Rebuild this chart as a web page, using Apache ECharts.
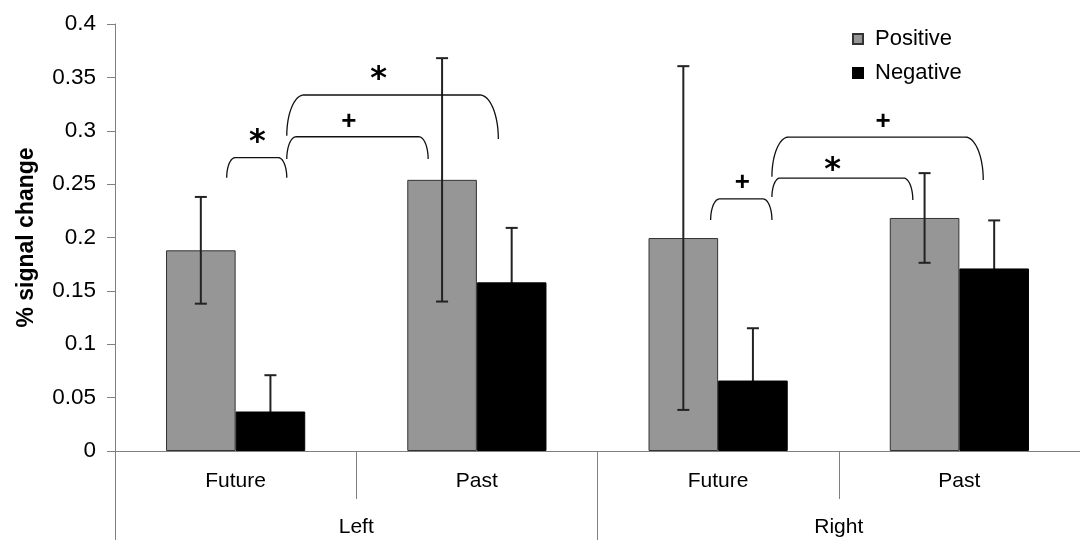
<!DOCTYPE html>
<html>
<head>
<meta charset="utf-8">
<script src="https://cdn.jsdelivr.net/npm/echarts@6/dist/echarts.min.js"></script>
<style>html,body{margin:0;padding:0;background:#fff}#c{width:1080px;height:540px}</style>
</head>
<body>
<div id="c"></div>
<script>
// ---- data ----
const subLabels = ['Future', 'Past', 'Future', 'Past'];
const groupLabels = ['Left', 'Right'];
const seriesNames = ['Positive', 'Negative'];
const positiveValues = [0.188, 0.254, 0.1995, 0.2183];
const positiveErrors = [0.050, 0.114, 0.161, 0.042];
const negativeValues = [0.037, 0.158, 0.066, 0.171];
const negativeErrors = [0.034, 0.051, 0.049, 0.045];
const yTicks = { min: 0, max: 0.4, interval: 0.05 };
// significance brackets: [x1, x2, yTop, yLeftEnd, yRightEnd, labelX, labelY] (x in category units)
const brackets = [
  [0.463, 0.712, 0.2748, 0.256, 0.256, 0.590, 0.296],
  [0.712, 1.298, 0.2944, 0.2735, 0.2735, 0.969, 0.308],
  [0.712, 1.589, 0.3335, 0.2954, 0.2923, 1.093, 0.3553],
  [2.469, 2.723, 0.2361, 0.2164, 0.2164, 2.600, 0.251],
  [2.723, 3.307, 0.2557, 0.2379, 0.2351, 2.975, 0.2698],
  [2.723, 3.599, 0.2941, 0.2570, 0.2539, 3.184, 0.3082]
];
const bracketMarks = ['*', '+', '*', '+', '*', '+'];

const FONT = "'Liberation Sans', Arial, sans-serif";
const GAP = 0.423;

const chart = echarts.init(document.getElementById('c'), null, { renderer: 'canvas' });

function errData(vals, errs) {
  return vals.map((v, i) => [i, v, errs[i]]);
}
function errRender(side) {
  return function (params, api) {
    const cat = api.value(0), v = api.value(1), e = api.value(2);
    const cw = api.size([1, 0])[0];
    const bw = cw * (1 - GAP) / 2;
    const top = api.coord([cat, v + e]);
    const bot = api.coord([cat, v - e]);
    const x = top[0] + side * bw / 2;
    const cap = 6;
    const st = { stroke: '#222', lineWidth: 2 };
    return {
      type: 'group',
      children: [
        { type: 'line', shape: { x1: x, y1: top[1], x2: x, y2: bot[1] }, style: st },
        { type: 'line', shape: { x1: x - cap, y1: top[1], x2: x + cap, y2: top[1] }, style: st },
        { type: 'line', shape: { x1: x - cap, y1: bot[1], x2: x + cap, y2: bot[1] }, style: st }
      ]
    };
  };
}
function bracketRender(params, api) {
  const b = brackets[params.dataIndex];
  const pL = api.coord([b[0], b[3]]);
  const pR = api.coord([b[1], b[4]]);
  const yT = api.coord([b[0], b[2]])[1];
  const pts = [];
  const N = 16;
  const dyL = pL[1] - yT, rxL = 0.42 * dyL;
  for (let k = 0; k <= N; k++) {
    const t = (Math.PI / 2) * k / N;
    pts.push([pL[0] + rxL - rxL * Math.cos(t), yT + dyL - dyL * Math.sin(t)]);
  }
  const dyR = pR[1] - yT, rxR = 0.42 * dyR;
  for (let k = N; k >= 0; k--) {
    const t = (Math.PI / 2) * k / N;
    pts.push([pR[0] - rxR + rxR * Math.cos(t), yT + dyR - dyR * Math.sin(t)]);
  }
  const lp = api.coord([b[5], b[6]]);
  const mark = bracketMarks[params.dataIndex];
  const isStar = mark === '*';
  return {
    type: 'group',
    children: [
      { type: 'polyline', shape: { points: pts }, style: { stroke: '#111', lineWidth: 1.3, fill: null } },
      {
        type: 'text', x: lp[0], y: lp[1] + (isStar ? 8 : 0),
        style: {
          text: mark, x: 0, y: 0, align: 'center', verticalAlign: 'middle',
          font: isStar ? "bold 32px 'DejaVu Sans', sans-serif" : 'bold 26px ' + FONT, fill: '#000'
        }
      }
    ]
  };
}

const option = {
  animation: false,
  textStyle: { fontFamily: FONT },
  grid: { left: 115, right: -12, top: 24, bottom: 89, containLabel: false },
  legend: {
    data: seriesNames,
    orient: 'vertical',
    left: 847, top: 23,
    itemWidth: 10, itemHeight: 10, itemGap: 12,
    icon: 'rect',
    textStyle: { fontSize: 22, color: '#000', fontFamily: FONT, padding: [0, 0, 0, 7] }
  },
  xAxis: [
    {
      type: 'category', data: subLabels, position: 'bottom',
      axisLine: { show: true, lineStyle: { color: '#808080', width: 1 } },
      axisTick: { show: true, length: 48, lineStyle: { color: '#808080', width: 1 } },
      axisLabel: { fontSize: 21, color: '#000', margin: 20, fontFamily: FONT },
      splitLine: { show: false }
    },
    {
      type: 'category', data: groupLabels, position: 'bottom',
      axisLine: { show: false },
      axisTick: { show: true, length: 95, lineStyle: { color: '#808080', width: 1 } },
      axisLabel: { fontSize: 21, color: '#000', margin: 66, fontFamily: FONT },
      splitLine: { show: false }
    },
    { type: 'value', min: 0, max: 4, show: false }
  ],
  yAxis: {
    type: 'value', min: yTicks.min, max: yTicks.max, interval: yTicks.interval,
    name: '% signal change', nameLocation: 'middle', nameGap: 77,
    nameTextStyle: { fontSize: 23, fontWeight: 'bold', color: '#000', fontFamily: FONT },
    axisLine: { show: true, lineStyle: { color: '#808080', width: 1 } },
    axisTick: { show: true, length: 8, lineStyle: { color: '#808080' } },
    axisLabel: { fontSize: 22.5, color: '#000', margin: 19, fontFamily: FONT },
    splitLine: { show: false }
  },
  series: [
    {
      name: seriesNames[0], type: 'bar', data: positiveValues, z: 2,
      barGap: '0%', barCategoryGap: (GAP * 100) + '%',
      itemStyle: { color: '#969696', borderColor: '#333', borderWidth: 1 }
    },
    {
      name: seriesNames[1], type: 'bar', data: negativeValues, z: 2,
      barGap: '0%', barCategoryGap: (GAP * 100) + '%',
      itemStyle: { color: '#000', borderColor: '#000', borderWidth: 1 }
    },
    { type: 'custom', renderItem: errRender(-1), data: errData(positiveValues, positiveErrors), z: 5, silent: true },
    { type: 'custom', renderItem: errRender(1), data: errData(negativeValues, negativeErrors), z: 1, silent: true },
    { type: 'custom', xAxisIndex: 2, renderItem: bracketRender, data: brackets.map((b, i) => [b[0], b[2]]), z: 6, silent: true, clip: false }
  ]
};
chart.setOption(option);
</script>
</body>
</html>
